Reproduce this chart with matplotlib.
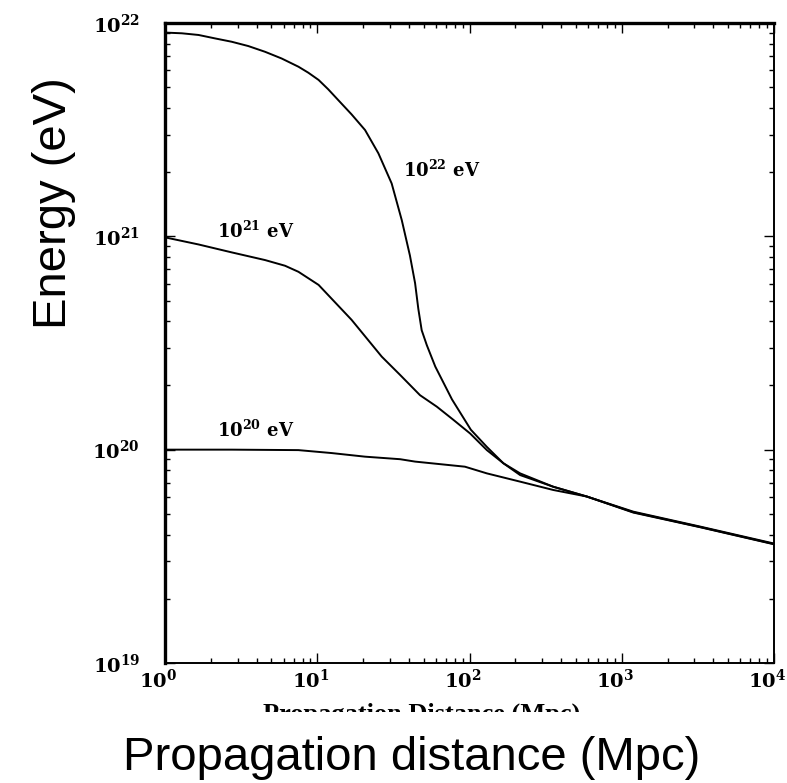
import matplotlib
matplotlib.use('Agg')
import matplotlib.pyplot as plt
import matplotlib.transforms as mtransforms
from matplotlib.patches import Rectangle
from matplotlib.ticker import NullFormatter

# 폰트 설정 (눈금 글자는 굵은 세리프)
plt.rcParams['mathtext.fontset'] = 'custom'
plt.rcParams['mathtext.rm'] = 'DejaVu Serif:bold'
plt.rcParams['mathtext.bf'] = 'DejaVu Serif:bold'
plt.rcParams['mathtext.it'] = 'DejaVu Serif:bold'

# 초기 에너지 1e22 eV
dist_22 = [1, 1.29, 1.66, 2.13, 2.74, 3.52, 4.54, 5.83, 7.52, 8.73, 10.2, 11.8,
           13.7, 16.8, 20.6, 25.2, 30.8, 35.9, 40.6, 43.9, 46.1, 48.5, 52.4,
           59.6, 76.7, 102, 130, 167, 215, 355, 589, 1191, 3266, 10000]
energy_22 = [9.02e21, 8.95e21, 8.79e21, 8.47e21, 8.17e21, 7.80e21, 7.33e21,
             6.82e21, 6.24e21, 5.85e21, 5.41e21, 4.89e21, 4.36e21, 3.73e21,
             3.15e21, 2.45e21, 1.77e21, 1.19e21, 8.13e20, 6.03e20, 4.57e20,
             3.63e20, 3.09e20, 2.45e20, 1.72e20, 1.24e20, 1.03e20, 8.63e19,
             7.60e19, 6.70e19, 6.03e19, 5.12e19, 4.36e19, 3.63e19]

# 초기 에너지 1e21 eV
dist_21 = [1, 1.66, 2.74, 4.54, 6.14, 7.52, 10.2, 16.8, 26.5, 35.0, 47.3, 61.0,
           78.3, 101, 130, 167, 215, 355, 589, 1191, 3266, 10000]
energy_21 = [9.89e20, 9.16e20, 8.41e20, 7.74e20, 7.28e20, 6.82e20, 5.92e20,
             4.06e20, 2.73e20, 2.24e20, 1.80e20, 1.59e20, 1.38e20, 1.19e20,
             9.95e19, 8.63e19, 7.74e19, 6.70e19, 6.03e19, 5.09e19, 4.34e19,
             3.61e19]

# 초기 에너지 1e20 eV
dist_20 = [1, 2.74, 7.52, 12.4, 20.6, 35.0, 43.9, 93.3, 130, 215, 355, 589,
           1191, 3266, 10000]
energy_20 = [1.0e20, 1.0e20, 9.95e19, 9.64e19, 9.27e19, 9.02e19, 8.79e19,
             8.32e19, 7.74e19, 7.08e19, 6.47e19, 6.03e19, 5.07e19, 4.33e19,
             3.60e19]

curve_labels = [r'$\mathbf{10^{22}\ eV}$', r'$\mathbf{10^{21}\ eV}$', r'$\mathbf{10^{20}\ eV}$']
label_pos = [(36.6, 1.90e21), (2.2, 9.8e20), (2.2, 1.15e20)]

x_ticks = [1, 10, 100, 1000, 10000]
x_tick_labels = [r'$\mathbf{10^{0}}$', r'$\mathbf{10^{1}}$', r'$\mathbf{10^{2}}$',
                 r'$\mathbf{10^{3}}$', r'$\mathbf{10^{4}}$']
y_ticks = [1e19, 1e20, 1e21, 1e22]
y_tick_labels = [r'$\mathbf{10^{19}}$', r'$\mathbf{10^{20}}$', r'$\mathbf{10^{21}}$',
                 r'$\mathbf{10^{22}}$']

fig = plt.figure(figsize=(7.87, 7.83), dpi=100)
ax = fig.add_axes([0.2097, 0.1533, 0.7738, 0.8173])

for d, e in [(dist_22, energy_22), (dist_21, energy_21), (dist_20, energy_20)]:
    ax.plot(d, e, color='black', lw=1.4)

ax.set_xscale('log')
ax.set_yscale('log')
ax.set_xlim(1, 1e4)
ax.set_ylim(1e19, 1e22)

ax.set_xticks(x_ticks)
ax.set_xticklabels(x_tick_labels)
ax.set_yticks(y_ticks)
ax.set_yticklabels(y_tick_labels)
ax.xaxis.set_minor_formatter(NullFormatter())
ax.yaxis.set_minor_formatter(NullFormatter())

ax.tick_params(which='both', direction='in', top=True, right=True, width=1.0, labelsize=14)
ax.tick_params(which='major', length=7)
ax.tick_params(which='minor', length=3.5)
ax.tick_params(axis='x', pad=4)
ax.tick_params(axis='y', pad=18)

# x 눈금 글자를 조금 왼쪽으로
shift = mtransforms.ScaledTranslation(-7 / 100, 0, fig.dpi_scale_trans)
for lab in ax.get_xticklabels():
    lab.set_transform(lab.get_transform() + shift)

ax.spines['left'].set_linewidth(2.4)
ax.spines['top'].set_linewidth(2.4)
ax.spines['bottom'].set_linewidth(1.4)
ax.spines['right'].set_linewidth(1.4)

# 곡선 라벨
for txt, (lx, ly) in zip(curve_labels, label_pos):
    ax.text(lx, ly, txt, fontsize=13, ha='left', va='baseline')

# 잘린 원래 x축 제목
fig.text(0.536, 0.1022, 'Propagation Distance (Mpc)', fontsize=19,
         family='Liberation Serif', weight='bold', ha='center', va='top', zorder=1)
fig.add_artist(Rectangle((0, 0), 1, 0.0907, transform=fig.transFigure,
                         facecolor='white', edgecolor='none', zorder=5))

# 큰 축 제목
fig.text(0.5235, 1 - 770 / 783, 'Propagation distance (Mpc)', fontsize=34,
         family='Liberation Sans', ha='center', va='baseline', zorder=10)
fig.text(54 / 787, 1 - 203 / 783, 'Energy (eV)', fontsize=34, rotation=90,
         family='Liberation Sans', ha='center', va='center', zorder=10)

plt.savefig('out.png', dpi=100)
